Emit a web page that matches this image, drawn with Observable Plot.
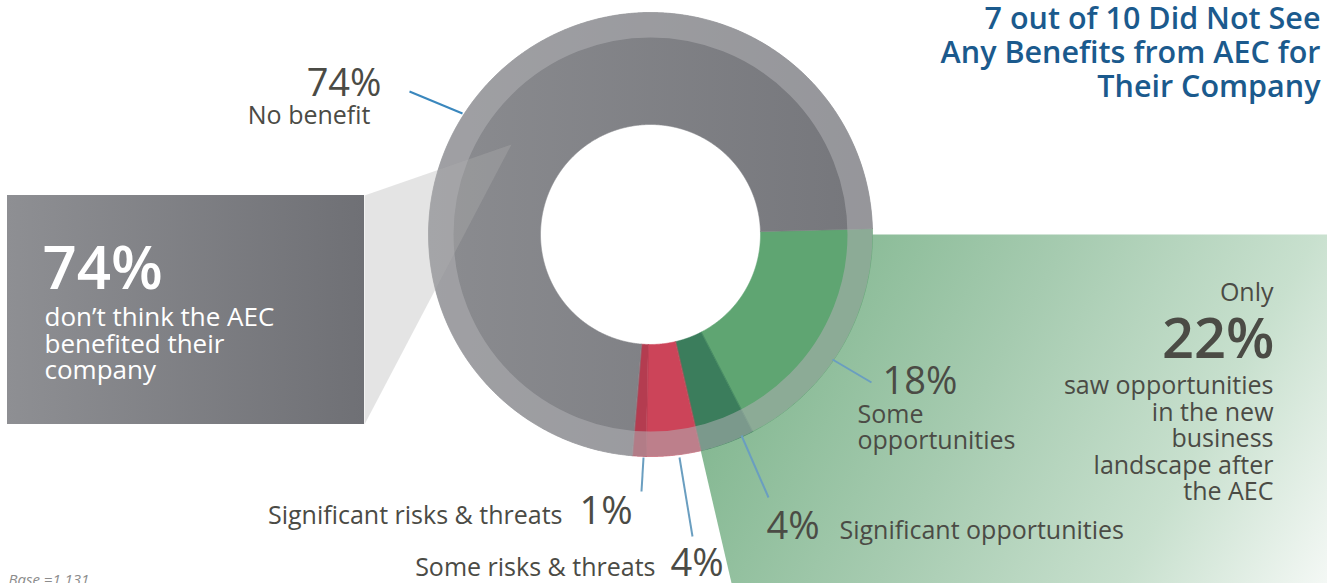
<!DOCTYPE html>
<html>
<head>
<meta charset="utf-8">
<script src="https://cdn.jsdelivr.net/npm/d3@7"></script>
<script src="https://cdn.jsdelivr.net/npm/@observablehq/plot@0.6"></script>
<style>
  html, body { margin: 0; padding: 0; background: #fff; overflow: hidden; }
  #chart svg { display: block; }
</style>
</head>
<body>
<div id="chart"></div>
<script>
// ---------- DATA ----------
const categories = ["Some opportunities", "Significant opportunities", "Some risks & threats", "Significant risks & threats", "No benefit"];
const values = [18, 4, 4, 1, 74];
const titleLines = ["7 out of 10 Did Not See", "Any Benefits from AEC for", "Their Company"];
const boxLines = ["don’t think the AEC", "benefited their", "company"];
const calloutLead = "Only";
const calloutLines = ["saw opportunities", "in the new", "business", "landscape after", "the AEC"];
const someOppLines = ["Some", "opportunities"];
const baseNote = "Base =1,131";

// ---------- LAYOUT / STYLE ----------
const W = 1327, H = 583;
const FONT = "'Open Sans', Lato, sans-serif";
const cx = 650, cy = 234, R = 222, Rring = 197, Rhole = 110;
const startDeg = 88.5;
const sliceColors = ["#5fa572", "#3b7d5c", "#cc4459", "#b43c50", "url(#grayGrad)"];
const textColor = "#4b4b45";
const leaderColors = ["#3a87bd", "#6a9ec0", "#6a9ec0", "#6a9ec0", "#6a9ec0"];

const pct = v => `${v}%`;

// pie geometry through d3.pie
const a0 = startDeg * Math.PI / 180;
const arcs = d3.pie().sort(null).startAngle(a0).endAngle(a0 + 2 * Math.PI)(values);
const pt = (a, r) => ({x: cx + r * Math.sin(a), y: cy - r * Math.cos(a)});
function band(s, e, r0, r1) {
  const n = Math.max(2, Math.ceil((e - s) / (Math.PI / 720)));
  const out = [];
  for (let i = 0; i <= n; i++) out.push(pt(s + (e - s) * i / n, r1));
  for (let i = n; i >= 0; i--) out.push(pt(s + (e - s) * i / n, r0));
  return out;
}
const slicePts = arcs.flatMap((a, i) =>
  band(a.startAngle, a.endAngle, Rhole, R).map(p => ({...p, key: categories[i], fill: sliceColors[i]})));

// opportunities call-out wedge: from centre, right along the panel top, down along the end of the opportunity slices
const oppEnd = arcs[1].endAngle;
const bottomX = cx + (H - cy) * Math.tan(Math.PI - oppEnd);
const wedge = [{x: cx, y: cy}, {x: W, y: cy}, {x: W, y: H}, {x: bottomX, y: H}];

// "No benefit" call-out box and its connector
const box = [{x1: 7, y1: 195, x2: 364, y2: 424}];
const connector = [{x: 364, y: 195}, {x: 511, y: 144}, {x: 364, y: 424}];

const leaders = [
  {x1: 409, y1: 91, x2: 462, y2: 113},
  {x1: 832, y1: 359, x2: 871, y2: 382},
  {x1: 741, y1: 435, x2: 768, y2: 497},
  {x1: 679, y1: 457, x2: 692, y2: 536},
  {x1: 643, y1: 457, x2: 641, y2: 491}
].map((l, i) => ({...l, c: leaderColors[i]}));

const opp = values[0] + values[1];
const rows = [
  ...titleLines.map((t, i) => ({t, x: 1320, b: [28, 62, 96][i], size: 30.5, anchor: "end", weight: 600, color: "#1b5a8d"})),
  {t: pct(values[4]), x: 381, b: 95, size: 38, anchor: "end", weight: 400, color: textColor},
  {t: categories[4], x: 370, b: 123, size: 25, anchor: "end", weight: 400, color: textColor},
  {t: pct(values[4]), x: 42, b: 288, size: 60, anchor: "start", weight: 600, color: "#ffffff"},
  ...boxLines.map((t, i) => ({t, x: 44, b: [325, 352, 378][i], size: 26, anchor: "start", weight: 400, color: "#ffffff"})),
  {t: pct(values[0]), x: 882, b: 393, size: 38, anchor: "start", weight: 400, color: textColor},
  ...someOppLines.map((t, i) => ({t, x: 857, b: [422, 448][i], size: 25, anchor: "start", weight: 400, color: textColor})),
  {t: calloutLead, x: 1273, b: 300, size: 25, anchor: "end", weight: 400, color: textColor},
  {t: pct(opp), x: 1274, b: 357, size: 56, anchor: "end", weight: 600, color: textColor},
  ...calloutLines.map((t, i) => ({t, x: 1273, b: [393, 420, 446, 473, 499][i], size: 25, anchor: "end", weight: 400, color: textColor})),
  {t: pct(values[1]), x: 766, b: 538, size: 38, anchor: "start", weight: 400, color: textColor},
  {t: categories[1], x: 839, b: 538, size: 25, anchor: "start", weight: 400, color: textColor},
  {t: categories[3], x: 562, b: 523, size: 25, anchor: "end", weight: 400, color: textColor},
  {t: pct(values[3]), x: 579, b: 523, size: 38, anchor: "start", weight: 400, color: textColor},
  {t: categories[2], x: 655, b: 575, size: 25, anchor: "end", weight: 400, color: textColor},
  {t: pct(values[2]), x: 670, b: 575, size: 38, anchor: "start", weight: 400, color: textColor},
  {t: baseNote, x: 8, b: 584, size: 15, anchor: "start", weight: 400, color: "#8c8c8c", style: "italic"}
];

const svg = Plot.plot({
  width: W, height: H,
  margin: 0,
  x: {domain: [0, W], range: [0, W], axis: null},
  y: {domain: [0, H], range: [0, H], axis: null},
  color: {type: "identity"},
  style: {background: "#fff", overflow: "visible"},
  marks: [
    Plot.line(wedge, {x: "x", y: "y", fill: "url(#greenGrad)", stroke: "none", curve: "linear-closed"}),
    Plot.dot([{x: cx, y: cy}], {x: "x", y: "y", r: Rhole + 1, fill: "#ffffff", stroke: "none"}),
    Plot.rect(box, {x1: "x1", y1: "y1", x2: "x2", y2: "y2", fill: "url(#boxGrad)"}),
    Plot.line(slicePts, {x: "x", y: "y", z: "key", fill: "fill", stroke: "fill", strokeWidth: 0.6, curve: "linear-closed"}),
    Plot.dot([{x: cx, y: cy}], {x: "x", y: "y", r: (R + Rring) / 2, fill: "none", stroke: "#b0b1b5", strokeOpacity: 0.55, strokeWidth: R - Rring}),
    Plot.line(connector, {x: "x", y: "y", fill: "#afafaf", fillOpacity: 0.34, stroke: "none", curve: "linear-closed"}),
    Plot.link(leaders, {x1: "x1", y1: "y1", x2: "x2", y2: "y2", stroke: "c", strokeWidth: 2}),
    ...rows.map(r => Plot.text([r], {
      x: "x", y: "b", text: "t", lineAnchor: "bottom",
      textAnchor: r.anchor, fontSize: r.size, fontWeight: r.weight,
      fontStyle: r.style || "normal", fill: r.color, fontFamily: FONT
    }))
  ]
});

const defs = d3.select(svg).insert("defs", ":first-child");
function grad(id, x1, y1, x2, y2, stops) {
  const g = defs.append("linearGradient").attr("id", id).attr("gradientUnits", "userSpaceOnUse")
    .attr("x1", x1).attr("y1", y1).attr("x2", x2).attr("y2", y2);
  stops.forEach(([o, c]) => g.append("stop").attr("offset", o).attr("stop-color", c));
}
grad("grayGrad", cx - R, 0, cx + R, 0, [[0, "#8b8c90"], [1, "#75767b"]]);
grad("boxGrad", 7, 0, 364, 0, [[0, "#8e8f93"], [1, "#6f7075"]]);
grad("greenGrad", 700, 234, W, H, [[0, "#76b085"], [0.45, "#a6cbb0"], [0.75, "#c8e0ce"], [1, "#f4f8f5"]]);

document.getElementById("chart").appendChild(svg);
</script>
</body>
</html>
